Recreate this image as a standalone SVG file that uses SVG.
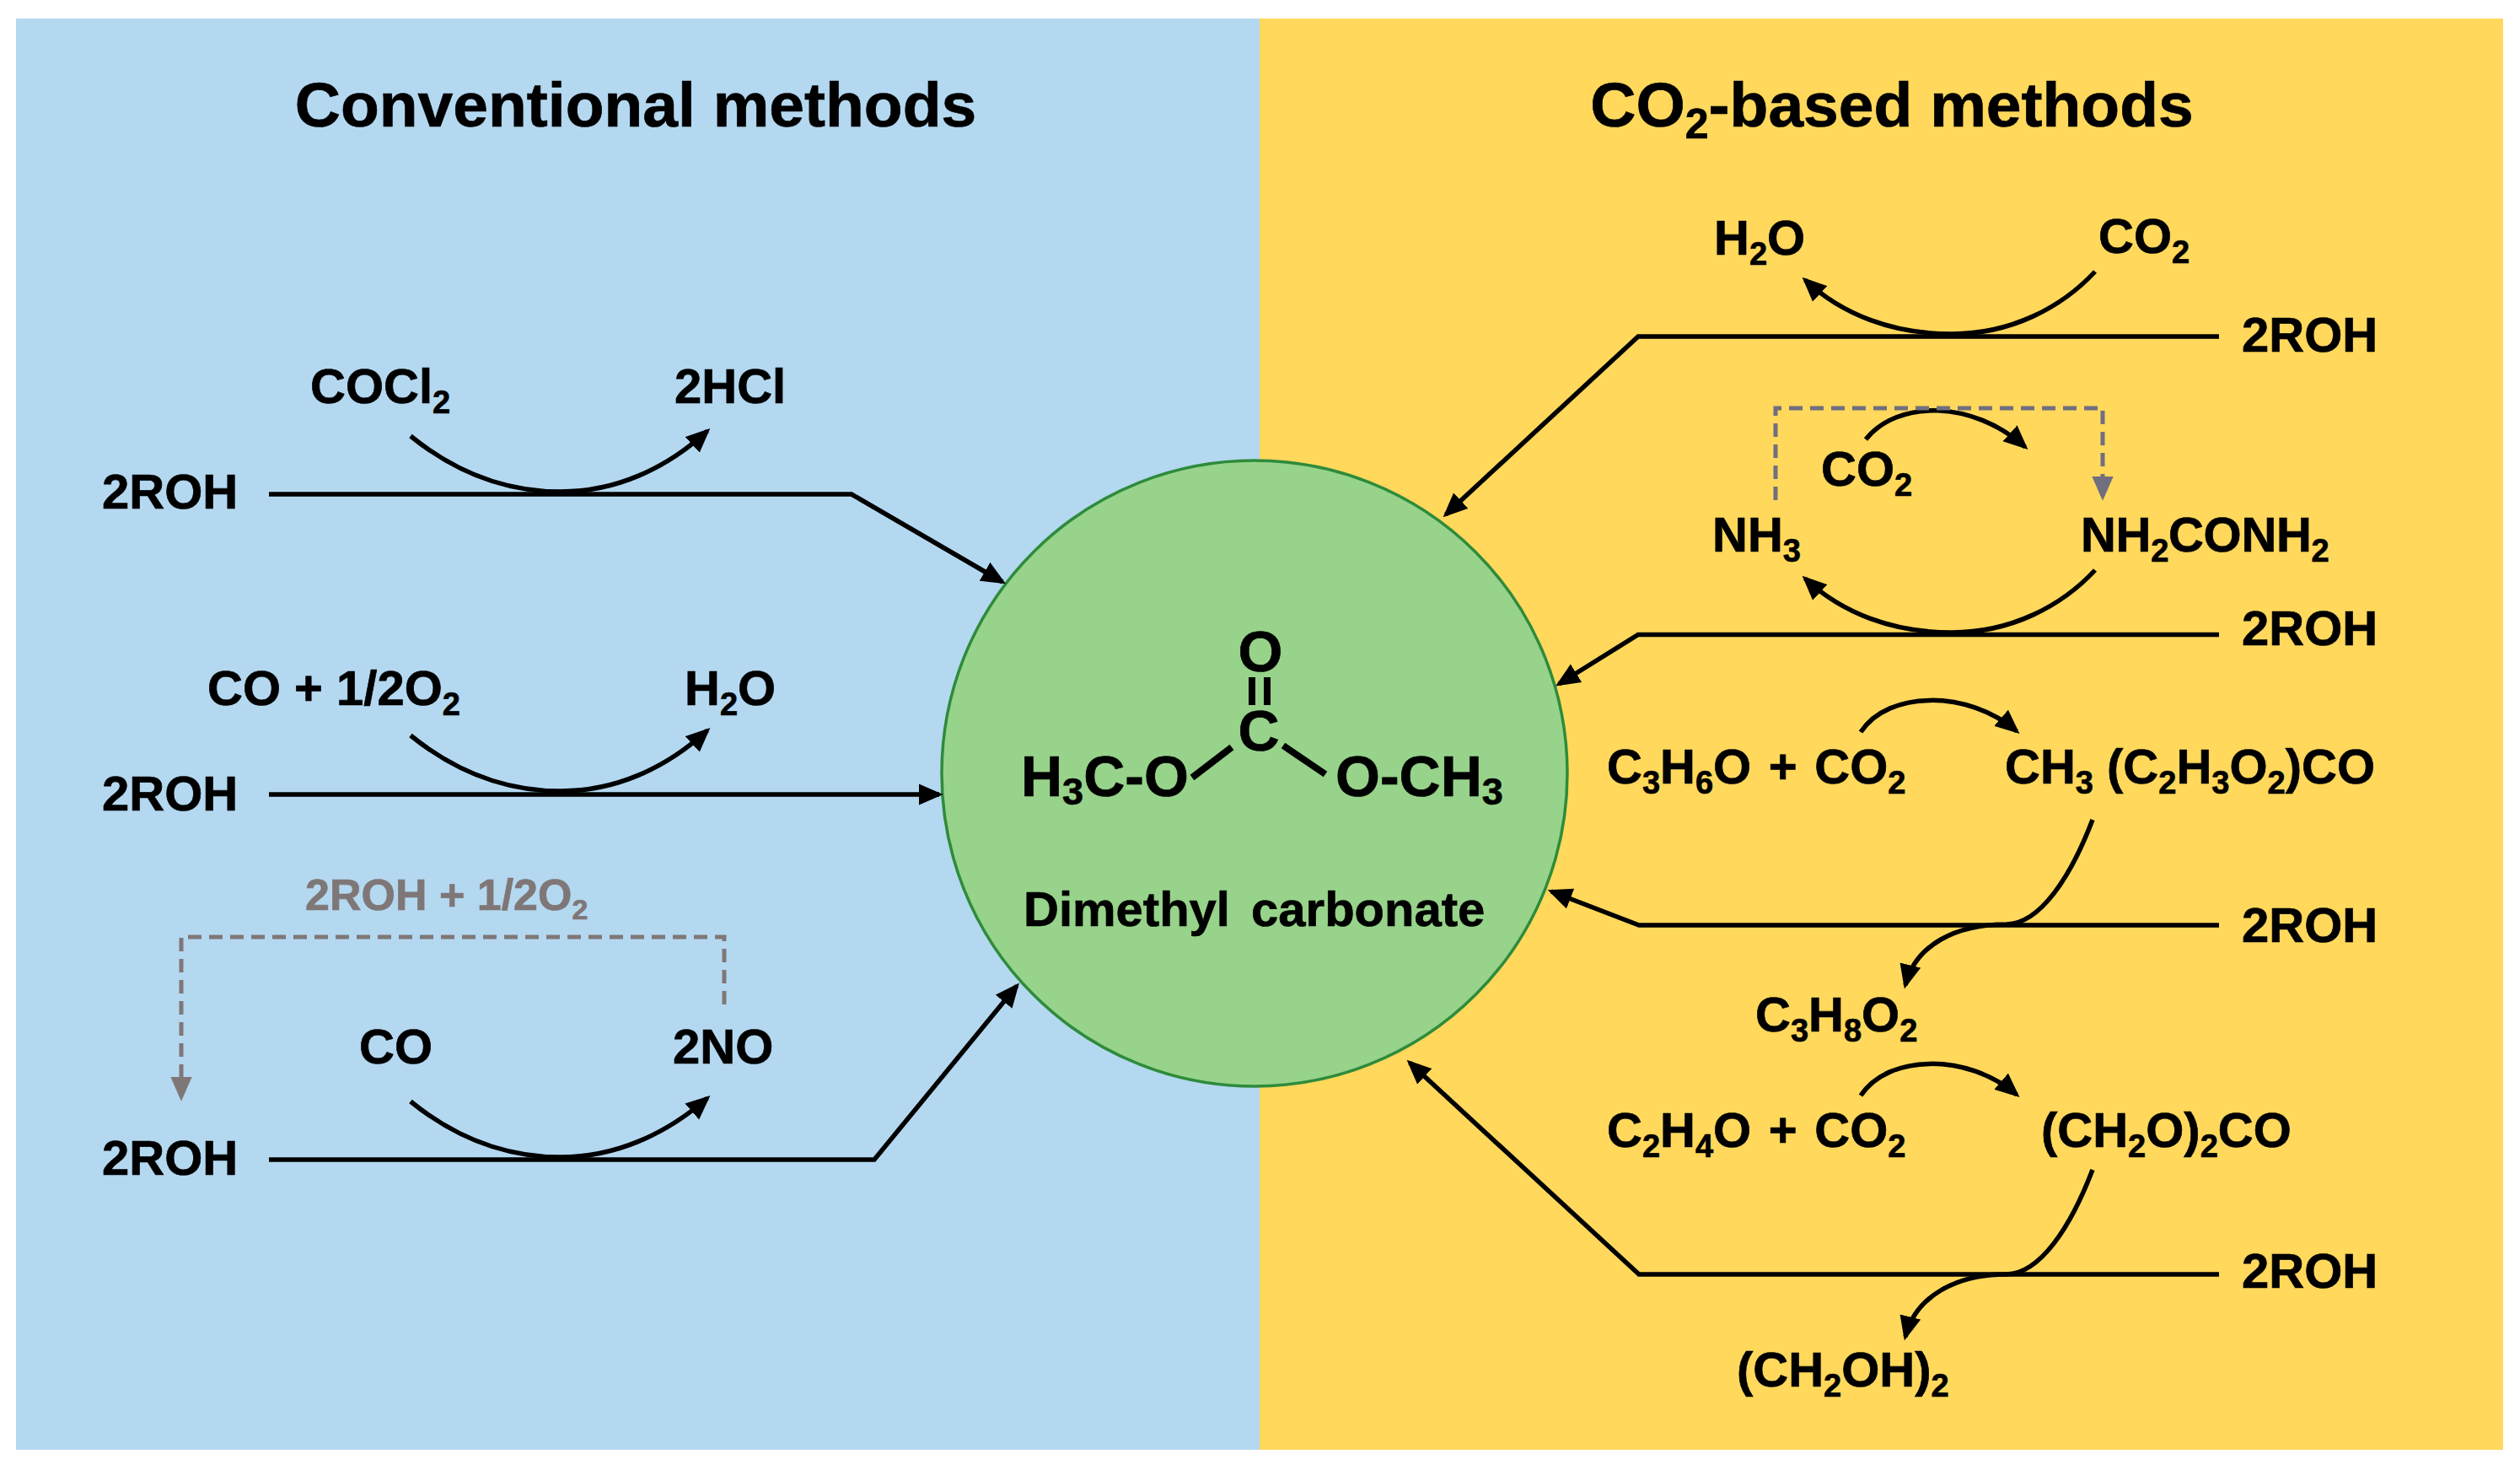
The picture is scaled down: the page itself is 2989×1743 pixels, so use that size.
<svg xmlns="http://www.w3.org/2000/svg" width="2989" height="1743" viewBox="0 0 2989 1743">
<style>
text{font-family:"Liberation Sans",Arial,sans-serif;font-weight:700;font-size:58px;fill:#000;stroke:#000;stroke-width:.7}
.t{font-size:75px;text-anchor:middle}
.g{fill:#7f7777;stroke:#7f7777;font-size:52px}
.m{font-size:68px}
.s{font-size:38px}
.gs{font-size:34px}
.ms{font-size:45px}
.w{word-spacing:4.500px}
.l{fill:none;stroke:#000;stroke-width:5.500}
.d1{fill:none;stroke:#7f7777;stroke-width:5;stroke-dasharray:16 9}
.d2{fill:none;stroke:#6f6f80;stroke-width:5;stroke-dasharray:16 9}
</style>
<defs>
<marker id="a" markerUnits="userSpaceOnUse" markerWidth="30" markerHeight="26" refX="21" refY="11" orient="auto" viewBox="0 0 26 22"><path d="M0 0L25 11L0 22z" fill="#000"/></marker>
<marker id="g1" markerUnits="userSpaceOnUse" markerWidth="30" markerHeight="26" refX="20" refY="11" orient="auto" viewBox="0 0 26 22"><path d="M0 0L25 11L0 22z" fill="#7f7777"/></marker>
<marker id="g2" markerUnits="userSpaceOnUse" markerWidth="30" markerHeight="26" refX="20" refY="11" orient="auto" viewBox="0 0 26 22"><path d="M0 0L25 11L0 22z" fill="#6f6f80"/></marker>
</defs>
<g id="panels">
<rect id="panel-conventional" x="19" y="22" width="1475" height="1697" fill="#b4d8f0"/>
<rect id="panel-co2" x="1494" y="22" width="1475" height="1697" fill="#ffd85c"/>
</g>
<g id="titles">
<text id="title-conventional" class="t" x="754" y="150">Conventional methods</text>
<text id="title-co2" class="t" x="2244" y="150">CO<tspan font-size="50" dy="14">2</tspan><tspan dy="-14">-based methods</tspan></text>
</g>
<g id="dmc">
<circle cx="1488" cy="917" r="371" fill="#97d38a" stroke="#2e8b3b" stroke-width="3.500"/>
<text class="m" x="1211" y="944">H<tspan class="ms" dy="10">3</tspan><tspan dy="-10">C-O</tspan></text>
<text class="m" x="1584" y="944">O-CH<tspan class="ms" dy="10">3</tspan></text>
<text class="m" x="1495" y="796" text-anchor="middle">O</text>
<text class="m" x="1493" y="890" text-anchor="middle">C</text>
<path d="M1485 803V836M1503 803V836M1414 922L1461 886M1522 884L1572 918" fill="none" stroke="#000" stroke-width="8"/>
<text x="1214" y="1098" style="word-spacing:9px">Dimethyl carbonate</text>
</g>
<g id="connectors">
<path class="l" marker-end="url(#a)" d="M319 586H1010L1189 690"/>
<path class="l" marker-end="url(#a)" d="M319 942H1114"/>
<path class="l" marker-end="url(#a)" d="M319 1375H1037L1206 1169"/>
<path class="l" marker-end="url(#a)" d="M487 517C545 564 605 583 665 583C730 583 790 556 839 511"/>
<path class="l" marker-end="url(#a)" d="M487 872C545 919 605 938 665 938C730 938 790 911 839 866"/>
<path class="l" marker-end="url(#a)" d="M487 1306C545 1353 605 1372 665 1372C730 1372 790 1345 839 1302"/>
<path class="d1" d="M859 1191V1111H215V1300" marker-end="url(#g1)"/>
<path class="l" marker-end="url(#a)" d="M2632 399H1943L1715 610"/>
<path class="l" marker-end="url(#a)" d="M2632 752.500H1943L1849 811"/>
<path class="l" marker-end="url(#a)" d="M2632 1097H1944L1840 1057"/>
<path class="l" marker-end="url(#a)" d="M2632 1511H1944L1672 1260"/>
<path class="l" marker-end="url(#a)" d="M2485 322C2445 365 2385 396 2315 396C2245 396 2185 373 2141 332"/>
<path class="l" marker-end="url(#a)" d="M2485 676C2445 719 2385 750 2315 750C2245 750 2185 727 2141 686"/>
<path class="l" marker-end="url(#a)" d="M2213 521C2250 474 2340 474 2402 530"/>
<path class="l" marker-end="url(#a)" d="M2207 868C2240 818 2335 818 2392 867"/>
<path class="l" marker-end="url(#a)" d="M2207 1299C2240 1249 2335 1249 2392 1298"/>
<path class="l" marker-end="url(#a)" d="M2482 972C2456 1040 2420 1095 2380 1096C2320 1096 2272 1120 2260 1168"/>
<path class="l" marker-end="url(#a)" d="M2482 1387C2456 1455 2420 1510 2380 1511C2320 1511 2272 1537 2260 1585"/>
<path class="d2" d="M2106 593V484H2494V588" marker-end="url(#g2)"/>
</g>
<g id="conventional-labels">
<text id="n-rohl1" x="121" y="603">2ROH</text>
<text id="n-rohl2" x="121" y="961">2ROH</text>
<text id="n-rohl3" x="121" y="1393">2ROH</text>
<text id="n-cocl2" x="368" y="478">COCl<tspan class="s" dy="12">2</tspan></text>
<text id="n-2hcl" x="800" y="478">2HCl</text>
<text id="n-co-o2" x="246" y="836">CO + 1/2O<tspan class="s" dy="12">2</tspan></text>
<text id="n-h2o-l" x="812" y="836">H<tspan class="s" dy="12">2</tspan><tspan dy="-12">O</tspan></text>
<text id="n-roh-o2" class="g" x="362" y="1079">2ROH + 1/2O<tspan class="gs" dy="11">2</tspan></text>
<text id="n-co" x="426" y="1261">CO</text>
<text id="n-2no" x="798" y="1261">2NO</text>
</g>
<g id="co2-labels">
<text id="n-h2o-r" x="2033" y="302">H<tspan class="s" dy="12">2</tspan><tspan dy="-12">O</tspan></text>
<text id="n-co2-1" x="2489" y="300">CO<tspan class="s" dy="12">2</tspan></text>
<text id="n-rohr1" x="2659" y="417">2ROH</text>
<text id="n-co2-2" x="2160" y="576">CO<tspan class="s" dy="12">2</tspan></text>
<text id="n-nh3" x="2031" y="654">NH<tspan class="s" dy="12">3</tspan></text>
<text id="n-urea" x="2468" y="654" letter-spacing="-.300">NH<tspan class="s" dy="12">2</tspan><tspan dy="-12">CONH</tspan><tspan class="s" dy="12">2</tspan></text>
<text id="n-rohr2" x="2659" y="765">2ROH</text>
<text id="n-po" class="w" x="1906" y="929">C<tspan class="s" dy="12">3</tspan><tspan dy="-12">H</tspan><tspan class="s" dy="12">6</tspan><tspan dy="-12">O + CO</tspan><tspan class="s" dy="12">2</tspan></text>
<text id="n-pc" x="2378" y="929">CH<tspan class="s" dy="12">3</tspan><tspan dy="-12"> (C</tspan><tspan class="s" dy="12">2</tspan><tspan dy="-12">H</tspan><tspan class="s" dy="12">3</tspan><tspan dy="-12">O</tspan><tspan class="s" dy="12">2</tspan><tspan dy="-12">)CO</tspan></text>
<text id="n-rohr3" x="2659" y="1117">2ROH</text>
<text id="n-pg" x="2082" y="1223">C<tspan class="s" dy="12">3</tspan><tspan dy="-12">H</tspan><tspan class="s" dy="12">8</tspan><tspan dy="-12">O</tspan><tspan class="s" dy="12">2</tspan></text>
<text id="n-eo" class="w" x="1906" y="1360">C<tspan class="s" dy="12">2</tspan><tspan dy="-12">H</tspan><tspan class="s" dy="12">4</tspan><tspan dy="-12">O + CO</tspan><tspan class="s" dy="12">2</tspan></text>
<text id="n-ec" x="2421" y="1360">(CH<tspan class="s" dy="12">2</tspan><tspan dy="-12">O)</tspan><tspan class="s" dy="12">2</tspan><tspan dy="-12">CO</tspan></text>
<text id="n-rohr4" x="2659" y="1527">2ROH</text>
<text id="n-eg" x="2060" y="1644">(CH<tspan class="s" dy="12">2</tspan><tspan dy="-12">OH)</tspan><tspan class="s" dy="12">2</tspan></text>
</g>
</svg>
